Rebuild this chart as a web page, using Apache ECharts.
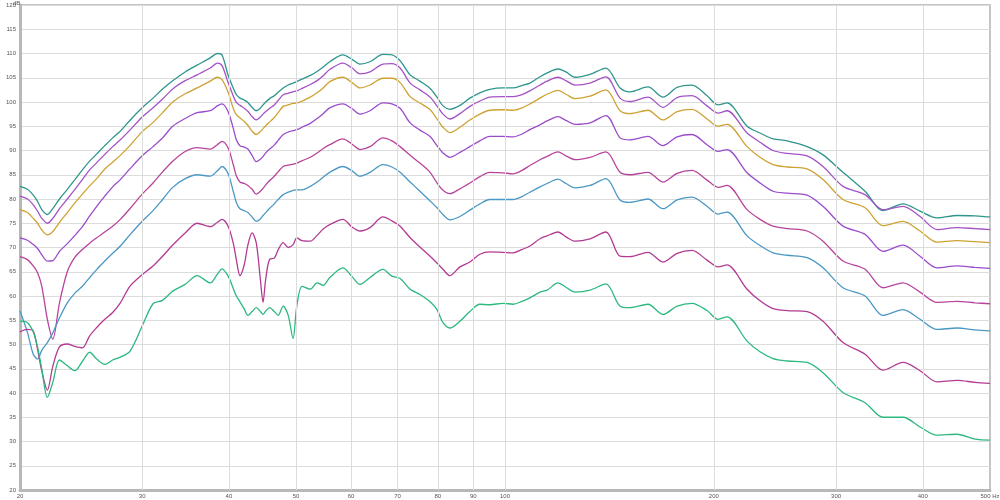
<!DOCTYPE html>
<html>
<head>
<meta charset="utf-8">
<script src="https://cdn.jsdelivr.net/npm/echarts@6/dist/echarts.min.js"></script>
<style>html,body{margin:0;padding:0;background:#fff}#c{width:1000px;height:500px}</style>
</head>
<body>
<div id="c"></div>
<script>
// Frequencies (Hz)
var freqs = [20,20.5,20.9,21.2,21.5,21.9,22.3,22.8,23.4,24.0,24.6,25.2,25.8,26.5,27.2,27.9,28.8,30,31.1,32.1,33.2,34.6,36.0,37.6,38.5,39.1,
 39.9,40.6,41.0,41.5,42.1,42.6,43.2,43.8,44.4,44.8,45.2,45.8,46.5,47.1,47.9,48.7,49.5,50.1,51.0,
 52.4,53.6,54.7,55.9,58.4,60.2,61.8,63.9,66.7,68.7,
 70.6,73.0,75.4,78.0,79.8,81.4,83.3,86.1,89.0,92.0,
 95.1,99.3,102.7,105.8,108.6,112.3,115.0,119.2,122.4,126.2,
 132.6,139.8,146.5,151.4,160.7,168.9,177.0,186.0,195.5,202.8,
 208.9,223.3,233.1,243.4,255.0,272.5,287.3,307.0,330.3,350.6,
 374.7,396.4,419.4,448.2,475.8,500];

var s1 = [82.6,82.0,80.8,79.5,77.8,76.8,78.0,80.0,82.0,84.0,86.0,87.8,89.3,91.0,92.6,94.0,96.2,98.8,100.8,102.7,104.4,106.2,107.6,109.1,110.0,109.7,
 105.5,102.8,101.5,100.8,100.4,99.9,98.9,98.2,98.7,99.4,100.0,100.7,101.3,102.0,102.9,103.5,103.9,104.2,104.7,
 105.5,106.3,107.2,108.3,109.7,108.8,107.8,108.3,109.8,109.7,
 108.5,105.6,104.3,102.8,101.0,99.2,98.5,99.3,100.8,101.9,
 102.6,102.9,102.9,103.4,103.9,105.2,106.0,106.8,106.2,105.1,
 105.7,107.0,102.9,102.1,103.1,101.0,103.0,103.5,101.3,99.4,
 99.8,95.0,93.6,92.4,92.0,90.8,89.1,85.5,81.6,77.6,
 79.0,77.5,76.1,76.6,76.5,76.3];

var s2 = [80.6,80.0,78.8,77.5,76.0,75.0,76.0,78.0,80.0,82.0,84.0,86.0,87.5,89.2,90.8,92.2,94.2,96.9,98.8,100.6,102.7,104.4,105.6,107.0,108.0,107.5,
 104.0,101.2,99.9,99.3,98.7,98.1,97.0,96.3,96.9,97.5,98.0,98.7,99.4,100.3,101.5,101.8,102.1,102.3,102.8,
 103.6,104.4,105.4,106.7,108.0,107.0,105.8,106.2,107.8,107.9,
 107.0,103.9,102.5,101.0,99.2,97.5,96.5,97.6,99.1,100.2,
 101.0,101.1,101.1,101.5,102.3,103.5,104.3,105.1,104.4,103.5,
 103.9,105.2,100.8,100.1,101.0,98.9,100.9,101.3,99.2,97.7,
 98.2,93.6,91.7,90.0,89.4,88.9,86.7,82.6,80.9,77.8,
 78.5,76.4,73.7,74.1,73.9,73.7];

var s3 = [77.8,77.2,76.0,75.0,73.6,72.6,73.3,75.2,77.2,79.2,81.0,82.7,84.2,86.2,87.6,89.0,91.0,93.9,95.8,97.8,100.0,101.7,102.9,104.3,105.1,104.6,
 102.0,98.6,97.4,96.7,96.0,95.2,94.0,93.3,93.9,94.5,95.1,95.9,96.8,97.8,99.1,99.4,99.7,99.8,100.2,
 101.0,101.9,102.9,104.2,105.1,104.0,102.9,103.5,104.9,104.9,
 104.0,101.1,99.8,98.4,96.5,94.8,93.7,94.8,96.3,97.5,
 98.3,98.4,98.3,98.8,99.6,100.8,101.6,102.4,101.6,100.7,
 101.2,102.5,98.2,97.6,98.3,96.3,98.0,98.5,96.5,95.0,
 95.4,90.8,88.6,87.1,86.6,86.2,84.0,79.9,78.2,74.5,
 75.4,73.4,71.1,71.4,71.2,71.0];

var s4 = [72.0,71.5,70.6,69.8,68.5,67.2,67.3,69.2,70.8,72.5,74.3,76.5,78.5,80.6,82.5,84.0,86.2,88.9,90.8,92.6,95.0,96.6,97.8,98.2,99.2,99.6,
 98.0,94.5,92.2,91.0,90.7,90.3,89.0,87.7,88.2,88.8,89.5,90.3,91.1,92.1,93.3,93.8,94.1,94.3,94.8,
 95.6,96.6,97.6,98.8,99.6,98.6,97.5,98.2,99.8,99.6,
 98.7,95.7,94.2,92.9,91.0,89.5,88.6,89.6,90.8,92.0,
 92.9,92.9,92.8,93.4,94.3,95.3,96.1,97.0,96.2,95.4,
 95.7,97.2,92.6,92.2,92.9,91.0,92.8,93.3,91.2,89.8,
 90.2,85.4,83.3,81.6,81.2,80.8,78.5,74.4,72.7,69.2,
 70.5,68.2,65.8,66.2,65.9,65.7];

var s5 = [68.1,67.5,66.2,64.8,62.0,55.2,51.1,58.6,65.0,68.0,69.6,70.9,72.0,73.2,74.4,75.8,78.0,81.0,83.3,85.6,87.8,89.8,90.6,90.3,91.2,91.9,
 90.5,87.0,84.8,83.5,83.2,82.8,82.0,81.0,81.6,82.2,82.9,83.8,84.7,85.6,86.7,87.0,87.2,87.4,87.9,
 88.6,89.5,90.4,91.2,92.4,91.3,90.2,90.8,92.6,92.0,
 90.8,89.0,87.4,85.5,83.3,81.8,81.1,82.1,83.3,84.6,
 85.5,85.4,85.2,85.9,86.9,88.1,88.8,89.7,88.9,88.1,
 88.6,89.7,85.5,85.0,85.5,83.5,85.3,85.9,83.9,82.4,
 82.8,77.8,75.8,74.4,73.9,73.4,71.3,67.2,65.5,61.7,
 62.7,60.8,58.7,58.9,58.6,58.4];

var s6 = [56.9,52.5,48.0,47.0,48.8,50.4,52.4,55.5,58.6,60.6,62.0,63.8,65.5,67.2,68.8,70.3,72.6,75.4,77.6,79.9,82.4,84.2,85.0,84.7,85.8,86.7,
 85.2,81.5,79.3,78.0,77.6,77.2,76.3,75.4,75.9,76.6,77.2,78.1,79.0,79.9,80.9,81.4,81.8,81.9,81.9,
 82.6,83.5,84.5,85.5,86.7,85.8,84.7,85.5,87.1,86.6,
 85.5,83.5,81.6,79.6,78.2,76.8,75.7,76.4,77.7,79.0,
 79.9,79.9,79.9,80.5,81.4,82.5,83.2,84.1,83.2,82.3,
 82.8,84.2,79.8,79.3,80.0,78.0,79.8,80.4,78.5,76.9,
 77.3,72.4,70.4,68.9,68.4,67.9,65.8,61.7,60.0,56.0,
 57.2,55.2,53.1,53.4,53.0,52.8];

var s7 = [52.6,53.1,52.8,49.0,44.5,40.6,45.5,49.5,50.1,49.6,49.3,51.8,53.5,55.2,56.6,58.6,62.0,64.4,66.2,68.2,70.5,73.0,75.0,74.3,75.2,75.8,
 74.4,70.8,67.5,64.2,66.5,70.5,73.0,71.0,63.5,58.7,63.5,67.6,67.8,69.5,71.0,70.0,70.6,72.0,71.4,
 71.3,72.5,73.8,74.7,75.8,74.2,73.4,74.1,76.3,75.5,
 74.4,72.0,70.1,68.2,66.8,65.5,64.2,66.0,67.0,68.6,
 69.1,69.0,68.9,69.6,70.3,71.8,72.4,73.2,72.2,71.3,
 71.8,73.2,68.2,68.1,69.0,67.0,68.8,69.4,67.4,66.0,
 66.4,61.4,59.0,57.4,57.0,56.8,54.8,50.4,48.0,44.7,
 46.3,44.6,42.3,42.6,42.2,42.0];

var s8 = [54.8,54.5,52.6,49.5,44.9,39.1,42.2,46.8,45.6,44.6,46.5,48.4,47.0,45.9,46.8,47.4,48.6,53.8,58.4,59.1,61.0,62.4,64.2,62.7,64.5,65.6,
 64.1,61.5,60.0,58.8,57.3,56.0,56.8,57.6,56.8,56.2,56.9,57.6,56.8,56.0,57.9,56.0,51.2,57.8,62.0,
 61.4,62.7,62.2,63.8,65.8,64.0,62.4,63.8,65.5,64.1,
 63.6,61.4,60.3,58.8,57.2,54.5,53.4,54.8,56.8,58.3,
 58.2,58.5,58.3,58.9,59.6,60.8,61.2,62.7,61.8,60.8,
 61.2,62.5,57.9,57.6,58.3,56.2,57.9,58.5,57.0,55.2,
 55.7,50.7,48.5,47.1,46.6,46.3,44.2,40.1,38.0,35.0,
 35.0,33.0,31.3,31.5,30.5,30.3];

var xTickLabels = [20,30,40,50,60,70,80,90,100,200,300,400,500];
var xGridLines = [30,40,50,60,70,80,90,100,200,300,400];
var yUnit = 'dB';

var colors = ['#2e968c','#a452c6','#cfa233','#9a4ccb','#b7449c','#4a98c4','#b23a92','#2cb87e'];
var allSeries = [s1,s2,s3,s4,s5,s6,s7,s8];

var series = [{
  type:'line', data:[], z:1, silent:true,
  markLine:{silent:true, symbol:'none', label:{show:false},
    lineStyle:{color:'#dcdcdc', width:1, type:'solid'},
    data: xGridLines.map(function(f){return {xAxis:f};})}
}];
allSeries.forEach(function(s,k){
  series.push({
    type:'line', z:3, showSymbol:false, smooth:0.3, silent:true,
    data: freqs.map(function(f,i){return [f,s[i]];}),
    lineStyle:{color:colors[k], width:1.3},
    itemStyle:{color:colors[k]}
  });
});

var chart = echarts.init(document.getElementById('c'), null, {renderer:'canvas'});
chart.setOption({
  animation:false,
  backgroundColor:'#ffffff',
  grid:{left:20, right:10, top:5, bottom:10, show:true, borderColor:'#c4c4c4', borderWidth:2, outerBoundsMode:'none', containLabel:false},
  graphic:[{type:'text', left:13, top:0, z:10, silent:true,
    style:{text:yUnit, fontSize:6, fill:'#555', fontFamily:'Liberation Sans'}}],
  xAxis:{
    type:'log', logBase:10, min:20, max:500,
    axisLine:{show:true, lineStyle:{color:'#b8b8b8', width:3}},
    axisTick:{show:false},
    splitLine:{show:false},
    axisLabel:{customValues:xTickLabels, fontSize:6, color:'#555', margin:3, fontFamily:'Liberation Sans',
      formatter:function(v){return v===500?'500 Hz':String(v);}, showMinLabel:true, showMaxLabel:true, hideOverlap:false}
  },
  yAxis:{
    type:'value', min:20, max:120, interval:5,
    axisLine:{show:true, lineStyle:{color:'#b8b8b8', width:3}},
    axisTick:{show:false},
    splitLine:{show:true, lineStyle:{color:'#dcdcdc', width:1}},
    axisLabel:{fontSize:6, color:'#555', margin:4, fontFamily:'Liberation Sans'}
  },
  series: series
});
</script>
</body>
</html>
